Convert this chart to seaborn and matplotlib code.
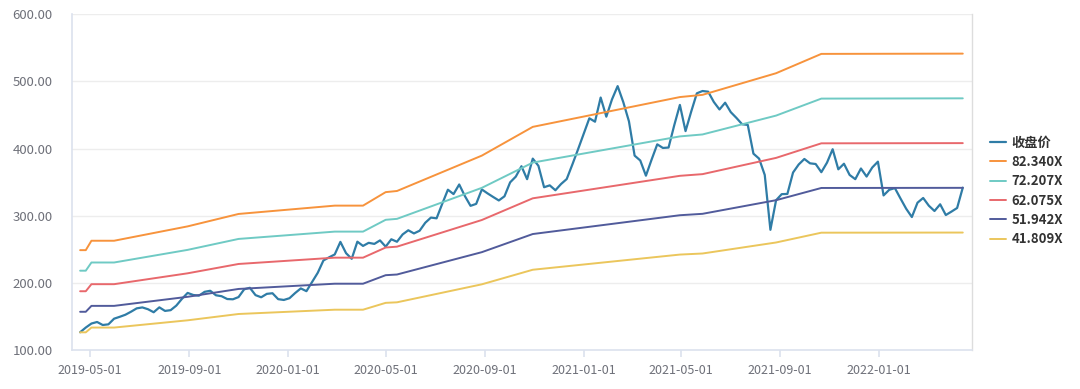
import numpy as np
import pandas as pd
import matplotlib
matplotlib.use("Agg")
import matplotlib.pyplot as plt
import matplotlib.dates as mdates
import matplotlib.ticker as mticker
import seaborn as sns

# ---------------- data ----------------
# weekly closing price (Fridays), 2019-04-19 .. 2022-04-15
price_start = "2019-04-19"
price_values = [
    126.4, 133.4, 139.4, 141.7, 137.2, 138.2, 146.6, 149.4, 152.5, 157.0,
    162.0, 163.4, 160.7, 156.2, 163.5, 158.2, 159.3, 166.1, 176.2, 185.0,
    181.9, 180.9, 186.6, 188.2, 181.5, 180.1, 175.9, 175.5, 178.8, 190.4,
    192.6, 181.7, 178.5, 183.6, 184.5, 175.7, 174.5, 177.1, 184.8, 191.7,
    187.6, 201.2, 215.0, 233.3, 238.0, 242.3, 261.0, 244.2, 235.8, 261.3,
    255.0, 259.6, 258.0, 263.2, 253.9, 264.9, 261.2, 272.1, 278.3, 273.6,
    277.6, 289.5, 297.2, 296.1, 317.7, 338.7, 332.2, 346.5, 329.3, 314.7,
    317.6, 339.1, 333.3, 327.9, 322.7, 328.9, 349.7, 358.2, 373.7, 354.4,
    385.0, 374.3, 342.4, 345.2, 337.9, 347.2, 354.6, 376.3, 398.8, 422.0,
    445.1, 440.0, 476.0, 447.5, 473.2, 493.0, 469.1, 440.5, 389.5, 382.2,
    359.6, 383.5, 406.3, 400.9, 401.5, 434.6, 465.0, 426.0, 455.0, 482.3,
    485.7, 484.7, 469.4, 458.2, 468.3, 454.2, 445.6, 436.2, 435.2, 392.4,
    385.0, 360.7, 279.0, 323.0, 332.1, 332.4, 364.3, 376.3, 384.5, 378.0,
    377.0, 364.8, 379.0, 399.0, 369.1, 377.4, 360.7, 354.4, 370.3, 358.3,
    371.8, 380.5, 330.2, 338.6, 341.1, 325.5, 310.3, 298.0, 319.4, 326.4,
    314.9, 307.0, 317.0, 301.0, 306.1, 311.5, 341.8,
]

# PE band break points
band_dates = [
    "2019-04-19", "2019-04-26", "2019-05-03", "2019-05-31", "2019-08-30",
    "2019-11-01", "2020-02-28", "2020-04-03", "2020-05-01", "2020-05-15",
    "2020-08-28", "2020-10-30", "2021-04-30", "2021-05-28", "2021-08-27",
    "2021-10-22", "2022-04-15",
]
band_82 = [248.7, 248.7, 262.7, 262.7, 284.1, 302.6, 315.0, 315.0, 335.1, 336.8,
           389.5, 432.3, 476.7, 480.0, 512.2, 541.0, 541.4]
band_72 = [218.1, 218.1, 230.3, 230.3, 249.1, 265.4, 276.3, 276.3, 293.9, 295.3,
           341.5, 379.1, 418.1, 421.0, 449.1, 474.4, 474.8]
band_62 = [187.5, 187.5, 198.0, 198.0, 214.2, 228.1, 237.5, 237.5, 252.6, 253.9,
           293.6, 325.9, 359.4, 361.9, 386.1, 407.8, 408.1]
band_51 = [156.9, 156.9, 165.7, 165.7, 179.2, 190.9, 198.7, 198.7, 211.4, 212.4,
           245.7, 272.7, 300.7, 302.8, 323.1, 341.3, 341.5]
band_41 = [126.3, 126.3, 133.4, 133.4, 144.2, 153.6, 160.0, 160.0, 170.2, 171.0,
           197.8, 219.5, 242.1, 243.7, 260.1, 274.7, 274.9]

series_names = ["收盘价", "82.340X", "72.207X", "62.075X", "51.942X", "41.809X"]
colors = ["#2f7ca6", "#f7933c", "#6fcac4", "#e8686c", "#515b9b", "#ebc65c"]
y_ticks = [100, 200, 300, 400, 500, 600]
x_ticks = ["2019-05-01", "2019-09-01", "2020-01-01", "2020-05-01", "2020-09-01",
           "2021-01-01", "2021-05-01", "2021-09-01", "2022-01-01"]

# ---------------- figure ----------------
sns.set_theme(style="white")
plt.rcParams["font.family"] = ["Noto Sans CJK SC", "DejaVu Sans"]

fig = plt.figure(figsize=(10.8, 3.89), dpi=100)
ax = fig.add_axes([0.0667, 0.1003, 0.8330, 0.8630])

price_dates = pd.date_range(price_start, periods=len(price_values), freq="7D")
price_df = pd.DataFrame({"date": price_dates, "value": price_values})
bdates = pd.to_datetime(band_dates)

sns.lineplot(data=price_df, x="date", y="value", ax=ax, color=colors[0],
             linewidth=1.6, label=series_names[0])
for vals, name, col in zip([band_82, band_72, band_62, band_51, band_41],
                           series_names[1:], colors[1:]):
    df = pd.DataFrame({"date": bdates, "value": vals})
    sns.lineplot(data=df, x="date", y="value", ax=ax, color=col,
                 linewidth=1.4, label=name)

ax.set_xlim(pd.Timestamp("2019-04-09"), pd.Timestamp("2022-04-26"))
ax.set_ylim(100, 600)
ax.set_yticks(y_ticks)
ax.yaxis.set_major_formatter(mticker.FuncFormatter(lambda v, p: f"{v:.2f}"))
ax.set_xticks(pd.to_datetime(x_ticks))
ax.xaxis.set_major_formatter(mdates.DateFormatter("%Y-%m-%d"))
ax.set_xlabel("")
ax.set_ylabel("")

ax.grid(axis="y", color="#ededed", linewidth=1.0)
ax.grid(axis="x", visible=False)
ax.set_axisbelow(True)

for side in ["left", "bottom"]:
    ax.spines[side].set_color("#dce2ee")
    ax.spines[side].set_linewidth(1.2)
ax.spines["right"].set_color("#dddddd")
ax.spines["right"].set_linewidth(1.0)
ax.spines["top"].set_visible(False)

ax.tick_params(axis="x", which="major", length=5, width=1.2, color="#dce2ee",
               labelsize=9, labelcolor="#6e7079", pad=5, bottom=True)
ax.tick_params(axis="y", which="major", length=0, labelsize=9.5,
               labelcolor="#6e7079", pad=14)

leg = ax.get_legend()
if leg is not None:
    leg.remove()
handles, labels = ax.get_legend_handles_labels()
fig.legend(handles, labels, loc="center left", bbox_to_anchor=(0.9165, 0.509),
           frameon=False, handlelength=1.2, handletextpad=0.45,
           labelspacing=0.4, borderpad=0, borderaxespad=0,
           prop={"size": 9.5, "weight": "bold"}, labelcolor="#333333")

fig.savefig("out.png", dpi=100)
